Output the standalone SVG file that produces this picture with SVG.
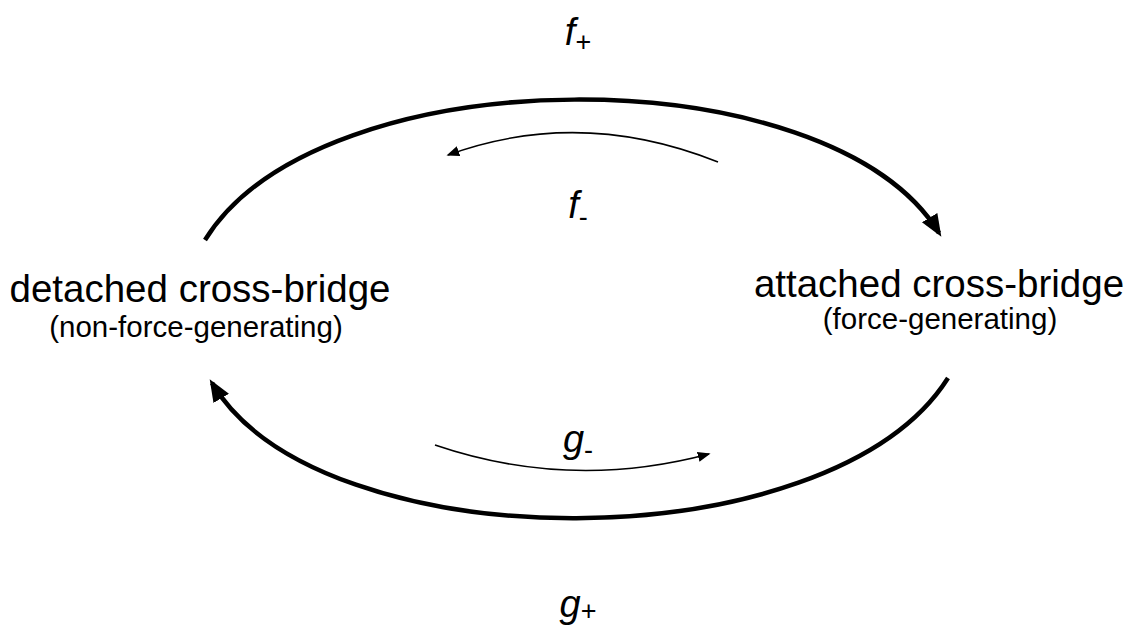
<svg xmlns="http://www.w3.org/2000/svg" width="1134" height="632" viewBox="0 0 1134 632">
<style>
.main{font-family:"Liberation Sans",Arial,sans-serif;font-size:38.5px;fill:#000;text-anchor:middle}
.sub{font-family:"Liberation Sans",Arial,sans-serif;font-size:29.5px;fill:#000;text-anchor:middle}
.rate{font-family:"Liberation Sans",Arial,sans-serif;font-style:italic;font-size:38px;fill:#000;text-anchor:middle}
.idx{font-style:normal;font-size:27px}
.big{fill:none;stroke:#000;stroke-width:4.5}
.small{fill:none;stroke:#000;stroke-width:1.6}
</style>
<defs>
<marker id="ab" markerWidth="6" markerHeight="6" refX="4" refY="3" orient="auto" markerUnits="strokeWidth" viewBox="0 0 6 6">
<path d="M0,1 L5,3 L0,5 Z" fill="#000"/>
</marker>
<marker id="as" markerWidth="10" markerHeight="10" refX="7" refY="5" orient="auto" markerUnits="strokeWidth" viewBox="0 0 10 10">
<path d="M0,1.8 L8,5 L0,8.2 Z" fill="#000"/>
</marker>
</defs>
<g id="connectors">
<path class="big" d="M205,240 C320,54 830,54 939,233" marker-end="url(#ab)"/>
<path class="big" d="M948,378 C830,564 320,564 212,383" marker-end="url(#ab)"/>
<path class="small" d="M718,162 Q580,107 448,155" marker-end="url(#as)"/>
<path class="small" d="M435,445 Q570,491 709,454" marker-end="url(#as)"/>
</g>
<g id="detached">
<text class="main" x="200" y="302">detached cross-bridge</text>
<text class="sub" x="196" y="337">(non-force-generating)</text>
</g>
<g id="attached">
<text class="main" x="939" y="297">attached cross-bridge</text>
<text class="sub" x="940" y="329">(force-generating)</text>
</g>
<g id="labels">
<text class="rate" x="578" y="45">f<tspan class="idx" dy="6">+</tspan></text>
<text class="rate" x="578" y="218">f<tspan class="idx" dy="8">-</tspan></text>
<text class="rate" x="578" y="452">g<tspan class="idx" dy="7">-</tspan></text>
<text class="rate" x="578" y="617">g<tspan class="idx" dy="3">+</tspan></text>
</g>
</svg>
